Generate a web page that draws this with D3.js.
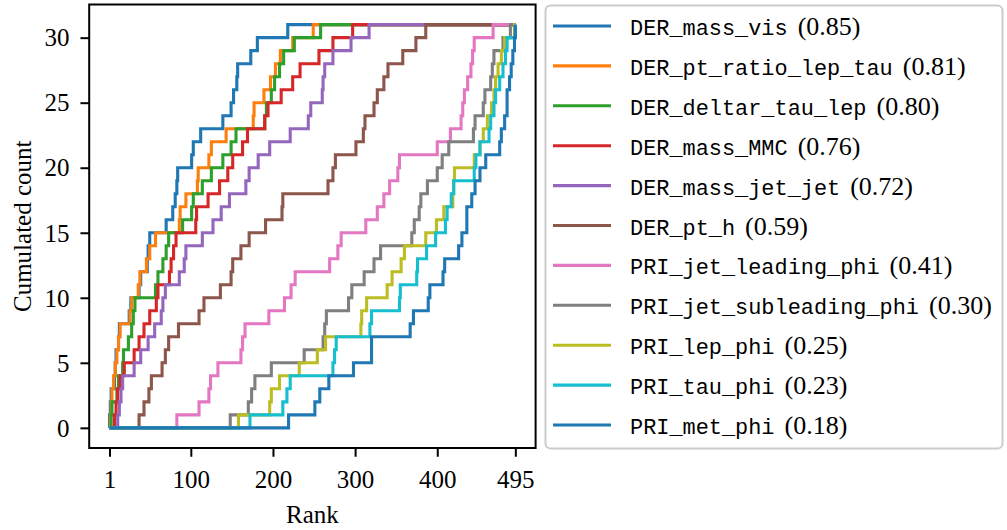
<!DOCTYPE html>
<html><head><meta charset="utf-8">
<script src="https://cdn.jsdelivr.net/npm/d3@7"></script>
<style>body{margin:0;background:#fff}</style>
</head><body><svg id="chart" width="1007" height="530"></svg>
<script>
// ---- data: for each feature, the 31 ranks at which the cumulated count increases ----
const seriesNames = ["DER_mass_vis","DER_pt_ratio_lep_tau","DER_deltar_tau_lep","DER_mass_MMC","DER_mass_jet_jet","DER_pt_h","PRI_jet_leading_phi","PRI_jet_subleading_phi","PRI_lep_phi","PRI_tau_phi","PRI_met_phi"];
const seriesScores = ["0.85","0.81","0.80","0.76","0.72","0.59","0.41","0.30","0.25","0.23","0.18"];
const seriesColors = ["#1f77b4","#ff7f0e","#2ca02c","#d62728","#9467bd","#8c564b","#e377c2","#7f7f7f","#bcbd22","#17becf","#1f77b4"];

const ranksDerMassVis = [1,2,3,7,8,9,12,13,25,27,37,39,47,48,50,70,78,81,83,84,101,103,112,139,149,152,156,157,173,181,218];
const ranksDerPtRatio = [2,3,4,6,8,10,12,14,26,28,36,38,46,50,57,86,87,94,108,109,122,125,143,176,177,189,197,203,209,224,249];
const ranksDerDeltar = [3,4,10,12,17,18,24,28,30,32,57,60,66,70,73,90,101,103,114,125,139,149,155,190,192,198,202,208,213,226,258];
const ranksDerMassMMC = [7,9,11,14,19,31,37,43,50,58,60,74,76,79,82,106,107,121,135,145,151,163,169,190,194,210,224,233,256,273,297];
const ranksDerMassJetJet = [11,13,15,17,31,39,48,56,64,66,69,86,92,94,114,127,137,147,167,171,182,196,221,243,246,260,261,263,273,295,317];
const ranksDerPtH = [37,43,49,52,65,69,73,85,110,116,136,149,151,161,171,191,211,212,267,273,276,301,310,312,323,327,335,340,358,374,386];
const ranksPriJetLeadingPhi = [83,110,122,124,133,161,163,166,195,214,222,227,269,279,283,313,327,335,342,352,354,400,416,429,431,433,437,441,443,445,468];
const ranksPriJetSubleadingPhi = [148,170,174,178,198,238,261,263,265,292,296,311,323,331,369,372,378,380,388,400,406,414,444,446,456,458,465,467,469,480,489];
const ranksPriLepPhi = [158,196,198,208,232,254,264,307,308,314,339,345,356,360,386,399,408,419,420,421,445,452,456,461,466,469,471,474,478,482,494];
const ranksPriTauPhi = [172,212,217,221,273,275,277,318,320,354,355,375,376,387,398,410,412,417,420,445,447,452,463,465,469,471,476,480,483,485,495];
const ranksPriMetPhi = [219,251,257,268,298,320,320,367,371,389,391,407,409,426,430,436,436,442,446,452,459,476,478,482,485,485,488,490,492,494,495];

const seriesRanks = [ranksDerMassVis,ranksDerPtRatio,ranksDerDeltar,ranksDerMassMMC,ranksDerMassJetJet,ranksDerPtH,ranksPriJetLeadingPhi,ranksPriJetSubleadingPhi,ranksPriLepPhi,ranksPriTauPhi,ranksPriMetPhi];

const rankMin = 1, rankMax = 495, countMax = 31;
const xTickValues = [1,100,200,300,400,495];
const yTickValues = [0,5,10,15,20,25,30];

(function draw() {
  const svg = d3.select("#chart");
  const pL = 89.2, pR = 535.6, pT = 4.5, pB = 448;
  const xPad = (rankMax - rankMin) * 0.05, yPad = countMax * 0.05;
  const x = d3.scaleLinear().domain([rankMin - xPad, rankMax + xPad]).range([pL, pR]);
  const y = d3.scaleLinear().domain([-yPad, countMax + yPad]).range([pB, pT]);

  const serif = "'Liberation Serif', 'DejaVu Serif', serif";
  const mono = "'Liberation Mono', 'DejaVu Sans Mono', monospace";
  const lw = 3.1;

  const line = d3.line().x(d => x(d[0])).y(d => y(d[1])).curve(d3.curveStepAfter);
  const allRanks = d3.range(rankMin, rankMax + 1);
  seriesRanks.forEach((ranks, i) => {
    const pts = [[rankMin, 0]];
    allRanks.forEach(r => pts.push([r, ranks.filter(v => v <= r).length]));
    svg.append("path").attr("d", line(pts)).attr("fill","none")
       .attr("stroke", seriesColors[i]).attr("stroke-width", lw)
       .attr("stroke-linejoin","miter").attr("stroke-linecap","butt");
  });

  const gx = svg.append("g").attr("transform", `translate(0,${pB})`)
    .call(d3.axisBottom(x).tickValues(xTickValues).tickFormat(d3.format("d")).tickSize(8.75).tickSizeOuter(0));
  gx.select(".domain").remove();
  gx.selectAll(".tick line").attr("stroke","#000").attr("stroke-width",2);
  gx.selectAll(".tick text").attr("y", 40).attr("dy", 0).attr("font-family", serif).attr("font-size", 25).attr("fill","#000");

  const gy = svg.append("g").attr("transform", `translate(${pL},0)`)
    .call(d3.axisLeft(y).tickValues(yTickValues).tickFormat(d3.format("d")).tickSize(8.75).tickPadding(11).tickSizeOuter(0));
  gy.select(".domain").remove();
  gy.selectAll(".tick line").attr("stroke","#000").attr("stroke-width",2);
  gy.selectAll(".tick text").attr("font-family", serif).attr("font-size", 25).attr("fill","#000").attr("dy","0.33em");

  svg.append("rect").attr("x", pL).attr("y", pT).attr("width", pR-pL).attr("height", pB-pT)
    .attr("fill","none").attr("stroke","#000").attr("stroke-width",2);

  svg.append("text").attr("x", (pL+pR)/2).attr("y", 523).attr("text-anchor","middle")
    .attr("font-family", serif).attr("font-size", 25).text("Rank");
  svg.append("text").attr("transform", `translate(31,${(pT+pB)/2}) rotate(-90)`).attr("text-anchor","middle")
    .attr("font-family", serif).attr("font-size", 25).text("Cumulated count");

  const lg = svg.append("g");
  lg.append("rect").attr("x", 545.5).attr("y", 5.5).attr("width", 457).attr("height", 443).attr("rx", 5)
    .attr("fill","#fff").attr("fill-opacity",0.8).attr("stroke","#cccccc").attr("stroke-width",2);
  seriesNames.forEach((name, i) => {
    const ry = 26 + i * 39.9;
    lg.append("line").attr("x1", 553).attr("x2", 611).attr("y1", ry).attr("y2", ry)
      .attr("stroke", seriesColors[i]).attr("stroke-width", lw);
    const t = lg.append("text").attr("x", 630).attr("y", ry + 9).attr("fill","#000");
    t.append("tspan").attr("font-family", mono).attr("font-size", 21.9).text(name);
    t.append("tspan").attr("font-family", serif).attr("font-size", 26).attr("dx", 10).text("(" + seriesScores[i] + ")");
  });
})();
</script>
</body></html>
